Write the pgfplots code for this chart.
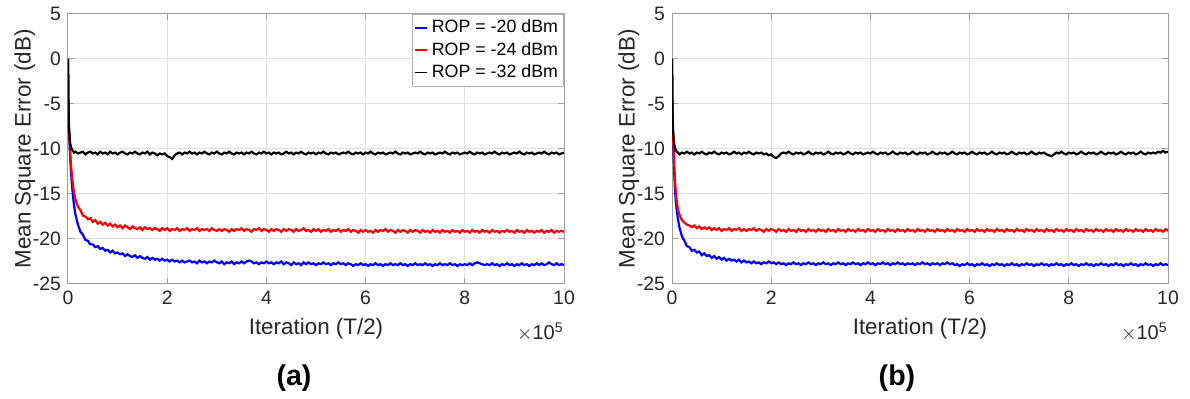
\documentclass[border=0pt]{standalone}
\usepackage{fontspec}
\setmainfont{Liberation Sans}
\usepackage{pgfplots}
\usepackage{pgfplotstable}
\pgfplotsset{compat=1.18}
\definecolor{txt}{gray}{0.15}
\definecolor{gridc}{gray}{0.88}
\definecolor{axc}{gray}{0.62}

\pgfplotstableread{
x b r k
0 0 0 0
0.01 -6.0 -6.0 -5.5
0.02 -8.0 -8.0 -7.6
0.04 -10.5 -10.0 -9.2
0.06 -12.5 -11.8 -9.8
0.08 -14.0 -13.0 -10.1
0.10 -15.2 -14.0 -10.2
0.12 -16.2 -14.8 -10.4
0.15 -17.3 -15.6 -10.3
0.20 -18.4 -16.4 -10.5
0.25 -19.2 -16.8 -10.4
0.30 -19.5 -17.4 -10.3
0.35 -20.1 -17.5 -10.6
0.40 -20.2 -17.8 -10.4
0.45 -20.6 -17.7 -10.3
0.50 -20.6 -18.1 -10.5
0.55 -20.9 -17.9 -10.4
0.60 -20.8 -18.3 -10.6
0.65 -21.1 -18.1 -10.3
0.70 -21.0 -18.4 -10.5
0.75 -21.3 -18.2 -10.4
0.80 -21.2 -18.5 -10.6
0.85 -21.5 -18.3 -10.3
0.90 -21.3 -18.6 -10.5
0.95 -21.6 -18.4 -10.4
1.00 -21.5 -18.7 -10.6
1.05 -21.7 -18.5 -10.4
1.10 -21.6 -18.8 -10.3
1.15 -21.9 -18.5 -10.5
1.20 -21.7 -18.7 -10.6
1.25 -21.9 -18.9 -10.4
1.30 -22.0 -18.6 -10.5
1.35 -21.8 -18.8 -10.3
1.40 -22.1 -18.9 -10.5
1.45 -21.9 -18.7 -10.6
1.50 -22.1 -19.0 -10.4
1.55 -22.2 -18.7 -10.5
1.60 -22.0 -18.9 -10.3
1.65 -22.3 -18.8 -10.6
1.70 -22.1 -19.0 -10.4
1.75 -22.3 -18.8 -10.5
1.80 -22.2 -18.9 -10.7
1.85 -22.4 -19.1 -10.5
1.90 -22.2 -18.8 -10.6
1.95 -22.4 -19.0 -10.5
2.00 -22.3 -18.8 -10.8
2.05 -22.5 -19.1 -10.9
2.10 -22.3 -18.9 -11.1
2.15 -22.5 -19.0 -10.7
2.20 -22.4 -18.8 -10.5
2.25 -22.6 -19.1 -10.4
2.30 -22.4 -18.9 -10.6
2.35 -22.6 -19.0 -10.4
2.40 -22.5 -18.8 -10.5
2.45 -22.4 -19.1 -10.3
2.50 -22.6 -18.9 -10.5
2.55 -22.5 -19.0 -10.4
2.60 -22.7 -18.8 -10.6
2.65 -22.4 -19.1 -10.4
2.70 -22.6 -18.9 -10.5
2.75 -22.5 -19.0 -10.3
2.80 -22.7 -18.9 -10.5
2.85 -22.5 -19.1 -10.6
2.90 -22.6 -18.8 -10.4
2.95 -22.4 -19.0 -10.5
3.00 -22.6 -19.1 -10.3
3.05 -22.7 -18.9 -10.5
3.10 -22.5 -19.1 -10.6
3.15 -22.8 -18.9 -10.4
3.20 -22.6 -19.0 -10.5
3.25 -22.7 -19.2 -10.3
3.30 -22.5 -18.9 -10.5
3.35 -22.8 -19.1 -10.6
3.40 -22.6 -18.9 -10.4
3.45 -22.7 -19.0 -10.5
3.50 -22.5 -18.8 -10.4
3.55 -22.7 -19.1 -10.6
3.60 -22.5 -18.9 -10.4
3.65 -22.4 -19.0 -10.5
3.70 -22.5 -19.2 -10.3
3.75 -22.7 -18.9 -10.5
3.80 -22.6 -19.0 -10.6
3.85 -22.8 -18.8 -10.4
3.90 -22.6 -19.1 -10.5
3.95 -22.7 -18.9 -10.3
4.00 -22.5 -19.0 -10.5
4.05 -22.7 -19.2 -10.4
4.10 -22.6 -18.9 -10.6
4.15 -22.8 -19.1 -10.4
4.20 -22.6 -18.9 -10.5
4.25 -22.7 -19.0 -10.4
4.30 -22.5 -19.2 -10.6
4.35 -22.8 -18.9 -10.5
4.40 -22.6 -19.1 -10.3
4.45 -22.7 -18.9 -10.5
4.50 -22.9 -19.0 -10.4
4.55 -22.6 -19.2 -10.6
4.60 -22.8 -18.9 -10.4
4.65 -22.7 -19.1 -10.5
4.70 -22.9 -19.0 -10.3
4.75 -22.6 -18.8 -10.5
4.80 -22.8 -19.1 -10.6
4.85 -22.6 -19.0 -10.4
4.90 -22.8 -19.2 -10.5
4.95 -22.7 -18.9 -10.4
5.00 -22.9 -19.1 -10.6
5.05 -22.7 -18.9 -10.4
5.10 -22.8 -19.2 -10.5
5.15 -22.6 -19.0 -10.3
5.20 -22.8 -19.1 -10.5
5.25 -22.7 -18.9 -10.6
5.30 -22.9 -19.2 -10.4
5.35 -22.7 -19.0 -10.5
5.40 -22.8 -19.1 -10.4
5.45 -22.6 -18.9 -10.6
5.50 -22.8 -19.2 -10.5
5.55 -22.7 -19.0 -10.4
5.60 -22.9 -19.1 -10.5
5.65 -22.7 -18.9 -10.3
5.70 -22.8 -19.2 -10.5
5.75 -23.0 -19.0 -10.6
5.80 -22.8 -19.1 -10.4
5.85 -22.9 -19.3 -10.5
5.90 -22.7 -19.0 -10.4
5.95 -22.9 -19.2 -10.6
6.00 -22.8 -19.0 -10.4
6.05 -23.0 -19.2 -10.5
6.10 -22.8 -19.1 -10.3
6.15 -22.9 -19.3 -10.5
6.20 -22.7 -19.0 -10.6
6.25 -22.9 -19.2 -10.4
6.30 -22.8 -19.0 -10.5
6.35 -23.0 -19.1 -10.4
6.40 -22.8 -18.9 -10.6
6.45 -22.9 -19.2 -10.5
6.50 -22.7 -19.0 -10.4
6.55 -22.9 -19.1 -10.5
6.60 -22.8 -19.3 -10.3
6.65 -22.9 -19.0 -10.5
6.70 -22.7 -19.2 -10.6
6.75 -22.9 -19.0 -10.4
6.80 -22.8 -19.1 -10.5
6.85 -23.0 -19.3 -10.4
6.90 -22.8 -19.0 -10.6
6.95 -22.9 -19.2 -10.5
7.00 -22.7 -19.0 -10.4
7.05 -22.9 -19.1 -10.5
7.10 -22.8 -19.3 -10.3
7.15 -22.9 -19.0 -10.5
7.20 -22.7 -19.2 -10.6
7.25 -22.9 -19.1 -10.4
7.30 -22.8 -19.3 -10.5
7.35 -23.0 -19.0 -10.4
7.40 -22.8 -19.2 -10.6
7.45 -22.9 -19.1 -10.5
7.50 -22.7 -19.3 -10.4
7.55 -22.9 -19.0 -10.5
7.60 -22.8 -19.2 -10.3
7.65 -22.9 -19.1 -10.5
7.70 -22.7 -19.3 -10.6
7.75 -22.9 -19.0 -10.4
7.80 -22.8 -19.2 -10.5
7.85 -23.0 -19.1 -10.4
7.90 -22.8 -19.3 -10.6
7.95 -22.9 -19.0 -10.5
8.00 -22.8 -19.2 -10.4
8.05 -22.9 -19.1 -10.5
8.10 -22.7 -19.3 -10.3
8.15 -22.9 -19.0 -10.5
8.20 -22.7 -19.2 -10.6
8.25 -22.6 -19.1 -10.4
8.30 -22.7 -19.3 -10.5
8.35 -22.8 -19.0 -10.4
8.40 -22.9 -19.2 -10.6
8.45 -22.8 -19.1 -10.5
8.50 -22.9 -19.3 -10.4
8.55 -22.7 -19.0 -10.5
8.60 -22.9 -19.2 -10.3
8.65 -22.8 -19.1 -10.5
8.70 -23.0 -19.3 -10.6
8.75 -22.8 -19.1 -10.4
8.80 -22.9 -19.2 -10.5
8.85 -22.7 -19.0 -10.4
8.90 -22.9 -19.2 -10.6
8.95 -22.8 -19.1 -10.5
9.00 -23.0 -19.3 -10.4
9.05 -22.8 -19.0 -10.5
9.10 -22.9 -19.2 -10.3
9.15 -22.7 -19.1 -10.5
9.20 -22.9 -19.3 -10.6
9.25 -22.8 -19.0 -10.4
9.30 -23.0 -19.2 -10.5
9.35 -22.8 -19.1 -10.4
9.40 -22.9 -19.3 -10.6
9.45 -22.7 -19.1 -10.5
9.50 -22.9 -19.2 -10.4
9.55 -22.7 -19.0 -10.5
9.60 -22.9 -19.3 -10.3
9.65 -22.8 -19.1 -10.5
9.70 -22.6 -19.2 -10.6
9.75 -22.8 -19.0 -10.4
9.80 -22.9 -19.3 -10.5
9.85 -22.7 -19.1 -10.4
9.90 -22.9 -19.2 -10.6
9.95 -22.8 -19.1 -10.5
10.00 -22.9 -19.2 -10.4
}\dataA

\pgfplotstableread{
x b r k
0 0 0 0
0.01 -6.5 -6.3 -5.6
0.02 -9.0 -8.6 -7.7
0.04 -12.0 -11.0 -9.3
0.06 -14.5 -13.5 -9.9
0.08 -16.0 -15.0 -10.2
0.10 -17.0 -16.0 -10.3
0.12 -17.8 -16.7 -10.4
0.15 -18.7 -17.3 -10.6
0.20 -19.7 -17.9 -10.4
0.25 -20.2 -18.2 -10.5
0.30 -20.8 -18.4 -10.3
0.35 -20.9 -18.5 -10.5
0.40 -21.3 -18.7 -10.4
0.45 -21.2 -18.5 -10.6
0.50 -21.5 -18.8 -10.4
0.55 -21.4 -18.6 -10.5
0.60 -21.8 -18.9 -10.3
0.65 -21.6 -18.7 -10.5
0.70 -21.9 -18.9 -10.6
0.75 -21.8 -18.7 -10.4
0.80 -22.1 -19.0 -10.5
0.85 -21.9 -18.8 -10.3
0.90 -22.2 -19.0 -10.5
0.95 -22.0 -18.8 -10.6
1.00 -22.3 -19.1 -10.4
1.05 -22.1 -18.9 -10.5
1.10 -22.4 -19.0 -10.4
1.15 -22.2 -18.8 -10.6
1.20 -22.4 -19.1 -10.5
1.25 -22.3 -18.9 -10.3
1.30 -22.5 -19.0 -10.5
1.35 -22.3 -18.8 -10.4
1.40 -22.6 -19.1 -10.6
1.45 -22.4 -18.9 -10.4
1.50 -22.6 -19.1 -10.5
1.55 -22.5 -18.9 -10.3
1.60 -22.7 -19.0 -10.5
1.65 -22.5 -18.8 -10.6
1.70 -22.7 -19.1 -10.4
1.75 -22.6 -18.9 -10.5
1.80 -22.8 -19.0 -10.4
1.85 -22.6 -19.2 -10.6
1.90 -22.7 -18.9 -10.5
1.95 -22.5 -19.1 -10.7
2.00 -22.7 -18.9 -10.6
2.05 -22.6 -19.0 -10.9
2.10 -22.8 -19.2 -11.0
2.15 -22.6 -18.9 -10.8
2.20 -22.8 -19.1 -10.5
2.25 -22.7 -19.0 -10.4
2.30 -22.9 -19.2 -10.5
2.35 -22.7 -18.9 -10.3
2.40 -22.8 -19.1 -10.5
2.45 -22.6 -19.0 -10.6
2.50 -22.8 -19.2 -10.4
2.55 -22.7 -18.9 -10.5
2.60 -22.9 -19.1 -10.4
2.65 -22.7 -19.0 -10.6
2.70 -22.8 -19.2 -10.5
2.75 -22.6 -18.9 -10.3
2.80 -22.8 -19.1 -10.5
2.85 -22.7 -19.0 -10.6
2.90 -22.9 -19.2 -10.4
2.95 -22.7 -18.9 -10.5
3.00 -22.8 -19.1 -10.4
3.05 -22.6 -19.0 -10.6
3.10 -22.8 -19.2 -10.5
3.15 -22.7 -18.9 -10.3
3.20 -22.9 -19.1 -10.5
3.25 -22.7 -19.0 -10.6
3.30 -22.8 -19.2 -10.4
3.35 -22.6 -18.9 -10.5
3.40 -22.8 -19.1 -10.4
3.45 -22.7 -19.0 -10.6
3.50 -22.9 -19.2 -10.5
3.55 -22.7 -18.9 -10.3
3.60 -22.8 -19.1 -10.5
3.65 -22.6 -19.0 -10.6
3.70 -22.8 -19.2 -10.4
3.75 -22.7 -18.9 -10.5
3.80 -22.9 -19.1 -10.4
3.85 -22.7 -19.0 -10.6
3.90 -22.8 -19.2 -10.5
3.95 -22.6 -18.9 -10.4
4.00 -22.8 -19.1 -10.5
4.05 -22.7 -19.0 -10.3
4.10 -22.9 -19.2 -10.5
4.15 -22.7 -18.9 -10.6
4.20 -22.8 -19.1 -10.4
4.25 -22.6 -19.0 -10.5
4.30 -22.8 -19.2 -10.4
4.35 -22.7 -18.9 -10.6
4.40 -22.9 -19.1 -10.5
4.45 -22.7 -19.0 -10.3
4.50 -22.8 -19.2 -10.5
4.55 -22.6 -18.9 -10.6
4.60 -22.8 -19.1 -10.4
4.65 -22.7 -19.0 -10.5
4.70 -22.9 -19.2 -10.4
4.75 -22.7 -18.9 -10.6
4.80 -22.8 -19.1 -10.5
4.85 -22.7 -19.0 -10.3
4.90 -22.9 -19.2 -10.5
4.95 -22.7 -18.9 -10.6
5.00 -22.8 -19.1 -10.4
5.05 -22.6 -19.0 -10.5
5.10 -22.8 -19.2 -10.4
5.15 -22.7 -18.9 -10.6
5.20 -22.9 -19.1 -10.5
5.25 -22.7 -19.0 -10.3
5.30 -22.8 -19.2 -10.5
5.35 -22.7 -18.9 -10.6
5.40 -22.9 -19.1 -10.4
5.45 -22.7 -19.0 -10.5
5.50 -22.8 -19.2 -10.4
5.55 -22.6 -18.9 -10.6
5.60 -22.8 -19.1 -10.5
5.65 -22.7 -19.0 -10.3
5.70 -22.9 -19.2 -10.5
5.75 -22.8 -18.9 -10.6
5.80 -23.0 -19.1 -10.4
5.85 -22.8 -19.0 -10.5
5.90 -22.9 -19.2 -10.4
5.95 -22.7 -18.9 -10.6
6.00 -22.9 -19.1 -10.5
6.05 -22.8 -19.0 -10.3
6.10 -23.0 -19.2 -10.5
6.15 -22.8 -18.9 -10.6
6.20 -22.9 -19.1 -10.4
6.25 -22.7 -19.0 -10.5
6.30 -22.9 -19.2 -10.4
6.35 -22.8 -18.9 -10.6
6.40 -23.0 -19.1 -10.5
6.45 -22.8 -19.0 -10.3
6.50 -22.9 -19.2 -10.5
6.55 -22.7 -18.9 -10.6
6.60 -22.9 -19.1 -10.4
6.65 -22.8 -19.0 -10.5
6.70 -23.0 -19.2 -10.4
6.75 -22.8 -18.9 -10.6
6.80 -22.9 -19.1 -10.5
6.85 -22.7 -19.0 -10.3
6.90 -22.9 -19.2 -10.5
6.95 -22.8 -18.9 -10.6
7.00 -23.0 -19.1 -10.4
7.05 -22.8 -19.0 -10.5
7.10 -22.9 -19.2 -10.4
7.15 -22.7 -18.9 -10.6
7.20 -22.9 -19.1 -10.5
7.25 -22.8 -19.0 -10.3
7.30 -23.0 -19.2 -10.5
7.35 -22.8 -18.9 -10.6
7.40 -22.9 -19.1 -10.4
7.45 -22.7 -19.0 -10.5
7.50 -22.9 -19.2 -10.4
7.55 -22.8 -18.9 -10.6
7.60 -23.0 -19.1 -10.7
7.65 -22.8 -19.0 -10.8
7.70 -22.9 -19.2 -10.6
7.75 -22.7 -18.9 -10.4
7.80 -22.9 -19.1 -10.5
7.85 -22.8 -19.0 -10.3
7.90 -23.0 -19.2 -10.5
7.95 -22.8 -18.9 -10.6
8.00 -22.9 -19.1 -10.4
8.05 -22.7 -19.0 -10.5
8.10 -22.9 -19.2 -10.4
8.15 -22.8 -18.9 -10.6
8.20 -23.0 -19.1 -10.5
8.25 -22.8 -19.0 -10.3
8.30 -22.9 -19.2 -10.5
8.35 -22.7 -18.9 -10.6
8.40 -22.9 -19.1 -10.4
8.45 -22.8 -19.0 -10.5
8.50 -23.0 -19.2 -10.4
8.55 -22.8 -18.9 -10.6
8.60 -22.9 -19.1 -10.5
8.65 -22.7 -19.0 -10.3
8.70 -22.9 -19.2 -10.5
8.75 -22.8 -18.9 -10.6
8.80 -23.0 -19.1 -10.4
8.85 -22.8 -19.0 -10.5
8.90 -22.9 -19.2 -10.4
8.95 -22.7 -18.9 -10.6
9.00 -22.9 -19.1 -10.5
9.05 -22.8 -19.0 -10.3
9.10 -23.0 -19.2 -10.5
9.15 -22.8 -18.9 -10.6
9.20 -22.9 -19.1 -10.4
9.25 -22.7 -19.0 -10.5
9.30 -22.9 -19.2 -10.4
9.35 -22.8 -18.9 -10.6
9.40 -23.0 -19.1 -10.5
9.45 -22.8 -19.0 -10.3
9.50 -22.9 -19.2 -10.5
9.55 -22.7 -18.9 -10.6
9.60 -22.9 -19.1 -10.4
9.65 -22.8 -19.0 -10.5
9.70 -23.0 -19.2 -10.4
9.75 -22.8 -18.9 -10.5
9.80 -22.9 -19.1 -10.3
9.85 -22.7 -19.0 -10.4
9.90 -22.9 -19.2 -10.2
9.95 -22.8 -18.9 -10.4
10.00 -22.9 -19.1 -10.3
}\dataB

\pgfplotsset{
  mse/.style={
    scale only axis, width=248pt, height=135pt,
    anchor=south west,
    xmin=0, xmax=10, ymin=-25, ymax=5,
    xtick={0,2,...,10}, ytick={-25,-20,...,5},
    grid=major, major grid style={gridc, line width=0.5pt},
    axis line style={axc, line width=0.5pt}, tick style={axc, line width=0.5pt},
    tick align=inside, major tick length=3pt,
    /pgf/number format/assume math mode=true,
    ticklabel style={font=\fontsize{9.7}{11}\selectfont, text=txt},
    xlabel={Iteration (T/2)}, ylabel={Mean Square Error (dB)},
    label style={font=\fontsize{11.2}{13}\selectfont, text=txt},
    ylabel style={yshift=-8pt},
    every axis plot/.append style={line width=1.1pt},
  }
}

\begin{document}
\begin{tikzpicture}
\useasboundingbox (0,0) rectangle (595pt,199.5pt);
\begin{axis}[mse, name=A, at={(34pt,57.5pt)},
  legend style={at={(rel axis cs:1,1)}, anchor=north east, draw=gray!60,
    font=\fontsize{8.9}{10.5}\selectfont, text=black, inner sep=0.8pt, row sep=-0.8pt},
  legend cell align=left,
  legend image code/.code={\draw[#1, line width=0.8pt] (0pt,0pt) -- (6pt,0pt);},
  ]
\addplot[blue] table[x=x, y=b] {\dataA};
\addlegendentry{ROP = -20 dBm}
\addplot[red] table[x=x, y=r] {\dataA};
\addlegendentry{ROP = -24 dBm}
\addplot[black] table[x=x, y=k] {\dataA};
\addlegendentry{ROP = -32 dBm}
\end{axis}
\node[anchor=north east, text=txt, font=\fontsize{10}{12}\selectfont, inner sep=0pt] at ([yshift=-19pt]A.south east) {$\times$10\textsuperscript{5}};

\begin{axis}[mse, name=B, at={(336pt,57.5pt)}]
\addplot[blue] table[x=x, y=b] {\dataB};
\addplot[red] table[x=x, y=r] {\dataB};
\addplot[black] table[x=x, y=k] {\dataB};
\end{axis}
\node[anchor=north east, text=txt, font=\fontsize{10}{12}\selectfont, inner sep=0pt] at ([yshift=-19pt]B.south east) {$\times$10\textsuperscript{5}};

\node[font=\fontsize{14.3}{16}\selectfont\bfseries] at (147pt,10.5pt) {(a)};
\node[font=\fontsize{14.3}{16}\selectfont\bfseries] at (448.5pt,10.5pt) {(b)};
\end{tikzpicture}
\end{document}
